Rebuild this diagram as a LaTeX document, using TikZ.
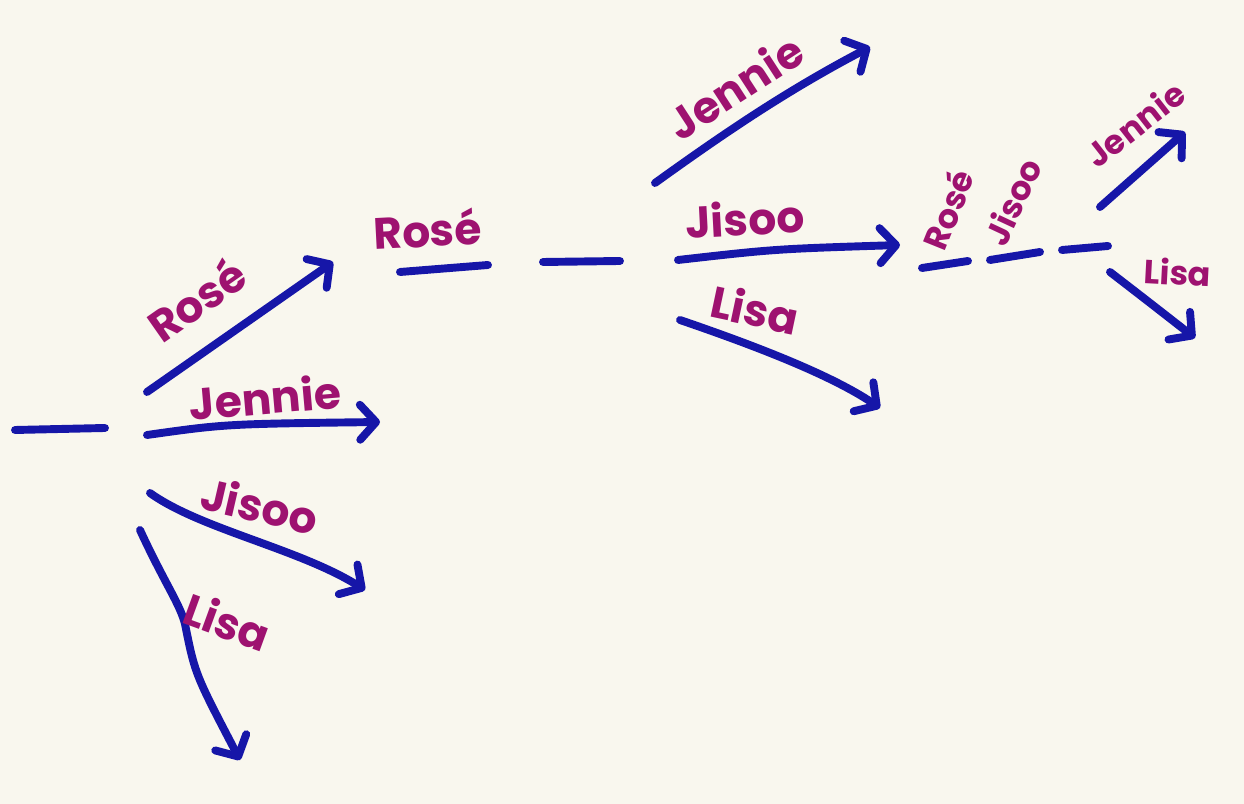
\documentclass[tikz,border=0pt]{standalone}
\usepackage{fontspec}
\setsansfont{Poppins}
\usetikzlibrary{arrows.meta}
\definecolor{paper}{RGB}{249,247,238}
\definecolor{pen}{RGB}{22,22,168}
\definecolor{ink}{RGB}{158,18,112}
\tikzset{
  blank/.style={line width=4.5pt, pen, line cap=round},
  branch/.style={blank, -{Straight Barb[length=3.2mm,width=7mm,line cap=round,line join=round]}},
  who/.style={ink, font=\sffamily\bfseries\fontsize{25}{25}\selectfont, inner sep=0pt},
  whosmall/.style={who, font=\sffamily\bfseries\fontsize{19}{19}\selectfont}
}
\begin{document}
\begin{tikzpicture}
    \fill[paper] (0,0) rectangle (24.88,16.08);
    \useasboundingbox (0,0) rectangle (24.88,16.08);
    %first slot
    \coordinate (b0s) at (0.3,7.48);
    \coordinate (b0e) at (2.1,7.52);
    \draw[blank] (b0s) -- (b0e);
    \coordinate (r1s) at (2.94,8.24);
    \coordinate (r1e) at (6.66,10.84);
    \coordinate (j1s) at (2.94,7.38);
    \coordinate (j1e) at (7.6,7.64);
    \coordinate (s1s) at (3.0,6.22);
    \coordinate (s1e) at (7.3,4.28);
    \coordinate (l1s) at (2.8,5.48);
    \coordinate (l1e) at (4.8,0.88);
    \draw[branch] (r1s) -- (r1e);
    \draw[branch] (j1s) .. controls (4.5,7.6) .. (j1e);
    \draw[branch] (s1s) .. controls (4.0,5.5) and (6.0,5.1) .. (s1e);
    \draw[branch] (l1s) .. controls (3.3,4.4) and (3.6,4.0) .. (3.7,3.6) .. controls (3.9,2.6) .. (l1e);
    \node[who, rotate=35] (rose1) at (3.92,10.1) {Rosé};
    \node[who, rotate=5] (jennie1) at (5.3,8.14) {Jennie};
    \node[who, rotate=-13] (jisoo1) at (5.2,5.98) {Jisoo};
    \node[who, rotate=-20] (lisa1) at (4.55,3.65) {Lisa};
    %second slot
    \coordinate (b1s) at (8.0,10.64);
    \coordinate (b1e) at (9.76,10.78);
    \coordinate (b2s) at (10.86,10.84);
    \coordinate (b2e) at (12.4,10.86);
    \draw[blank] (b1s) -- (b1e);
    \draw[blank] (b2s) -- (b2e);
    \node[who, rotate=3] (rose2) at (8.55,11.5) {Rosé};
    \coordinate (j2s) at (13.1,12.42);
    \coordinate (j2e) at (17.4,15.14);
    \coordinate (s2s) at (13.56,10.88);
    \coordinate (s2e) at (18.0,11.18);
    \coordinate (l2s) at (13.6,9.68);
    \coordinate (l2e) at (17.6,7.92);
    \draw[branch] (j2s) .. controls (14.6,13.5) and (15.8,14.3) .. (j2e);
    \draw[branch] (s2s) .. controls (15.5,11.1) .. (s2e);
    \draw[branch] (l2s) .. controls (15.0,9.2) and (16.6,8.6) .. (l2e);
    \node[who, rotate=33] (jennie2) at (14.7,14.35) {Jennie};
    \node[who, rotate=3] (jisoo2) at (14.9,11.72) {Jisoo};
    \node[who, rotate=-12] (lisa2) at (15.1,9.9) {Lisa};
    %third slot
    \coordinate (b3s) at (18.44,10.72);
    \coordinate (b3e) at (19.36,10.86);
    \coordinate (b4s) at (19.8,10.88);
    \coordinate (b4e) at (20.8,11.04);
    \coordinate (b5s) at (21.24,11.08);
    \coordinate (b5e) at (22.16,11.16);
    \draw[blank] (b3s) -- (b3e);
    \draw[blank] (b4s) -- (b4e);
    \draw[blank] (b5s) -- (b5e);
    \node[whosmall, rotate=68] (rose3) at (18.95,11.9) {Rosé};
    \node[whosmall, rotate=65] (jisoo3) at (20.25,12.05) {Jisoo};
    \coordinate (j3s) at (22.0,11.94);
    \coordinate (j3e) at (23.7,13.44);
    \coordinate (l3s) at (22.2,10.64);
    \coordinate (l3e) at (23.9,9.32);
    \draw[branch] (j3s) -- (j3e);
    \draw[branch] (l3s) .. controls (22.9,10.1) .. (l3e);
    \node[whosmall, rotate=38] (jennie3) at (22.7,13.6) {Jennie};
    \node[whosmall, rotate=-3] (lisa3) at (23.55,10.64) {Lisa};
\end{tikzpicture}
\end{document}
